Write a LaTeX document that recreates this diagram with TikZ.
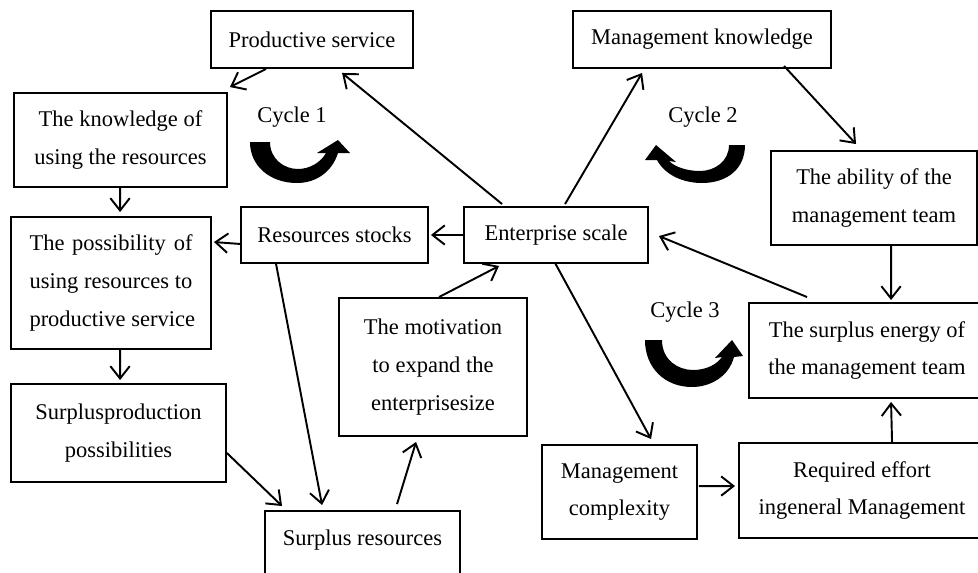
\documentclass[tikz,border=0pt]{standalone}
\usepackage{fontspec}
\setmainfont{Liberation Serif}
\usetikzlibrary{arrows.meta,calc}
\begin{document}
\begin{tikzpicture}[x=0.02cm,y=-0.02cm,
  box/.style={draw, line width=1.1pt, align=center, inner sep=0pt, font=\fontsize{12.8}{21.5}\selectfont},
  conn/.style={-{Straight Barb[length=7pt,width=11pt,line width=1.1pt]}, line width=1.1pt},
  cyc/.style={fill=black, draw=none},
  lbl/.style={font=\fontsize{12.8}{15}\selectfont, inner sep=0pt}]
\clip (0,0) rectangle (978,572);
\fill[white] (0,0) rectangle (978,572);
% boxes
\node[box, minimum width=4.04cm, minimum height=1.14cm] (prod) at (312,39.5) {Productive service};
\node[box, minimum width=4.26cm, minimum height=1.88cm] (know) at (120.5,140) {\raisebox{-3pt}{The knowledge of}\\\raisebox{-3pt}{using the resources}};
\node[box, minimum width=5.16cm, minimum height=1.14cm] (mk) at (702,39.5) {Management knowledge};
\node[box, minimum width=4.12cm, minimum height=1.88cm] (abil) at (874,198) {The ability of the\\management team};
\node[box, minimum width=4.00cm, minimum height=2.64cm] (poss) at (111,283)
  {\makebox[3.26cm][s]{The possibility of}\\\makebox[3.26cm][s]{using resources to}\\\makebox[3.26cm][l]{productive service}};
\node[box, minimum width=3.74cm, minimum height=1.12cm] (rs) at (334.5,235) {Resources stocks};
\node[box, minimum width=3.68cm, minimum height=1.12cm] (es) at (556,235) {Enterprise scale};
\node[box, minimum width=4.30cm, minimum height=1.96cm] (spp) at (118.5,433) {Surplusproduction\\possibilities};
\node[box, minimum width=3.76cm, minimum height=2.76cm] (mot) at (433,367) {The motivation\\to expand the\\enterprisesize};
\node[box, anchor=base, minimum width=3.90cm, text height=0.31cm, text depth=1cm, inner ysep=0.37cm] (sr) at (362.5,545) {Surplus resources};
\node[box, minimum width=4.72cm, minimum height=1.90cm] (se) at (867,350.5) {The surplus energy of\\the management team};
\node[box, minimum width=3.10cm, minimum height=1.88cm] (mc) at (619.5,492) {Management\\complexity};
\node[box, minimum width=4.92cm, minimum height=1.90cm] (re) at (862,490.5) {Required effort\\ingeneral Management};
% cycle labels
\node[lbl] (c1) at (292,117) {Cycle 1};
\node[lbl] (c2) at (703,117) {Cycle 2};
\node[lbl] (c3) at (685,312) {Cycle 3};
% connectors
\draw[conn] ($(prod.south west)+(56,0)$) -- ($(know.north east)+(2,-5)$);
\draw[conn] ($(es.north west)+(39,-2)$) -- ($(prod.south west)+(132,4)$);
\draw[conn] ($(es.north west)+(102,-2)$) -- ($(mk.south west)+(70,4)$);
\draw[conn] ($(mk.south west)+(212,-3)$) -- ($(abil.north west)+(86,-6)$);
\draw[conn] ($(abil.south west)+(121,0)$) -- ($(se.north west)+(143,-2)$);
\draw[conn] ($(se.north west)+(59,-5)$) -- ($(es.north east)+(10,30)$);
\draw[conn] ($(re.north west)+(154,0)$) -- ($(se.south west)+(143,3)$);
\draw[conn] ($(mc.north east)+(1,42)$) -- ($(re.north west)+(-3,44)$);
\draw[conn] ($(es.south west)+(92,-1)$) -- ($(mc.north west)+(110,-5)$);
\draw[conn] (es.west) -- ($(rs.east)+(2,0)$);
\draw[conn] ($(rs.south west)+(0,-20)$) -- ($(poss.north east)+(2,26)$);
\draw[conn] ($(know.south west)+(107,0)$) -- ($(poss.north west)+(110,-4)$);
\draw[conn] ($(poss.south west)+(110,0)$) -- ($(spp.north west)+(110,-3)$);
\draw[conn] ($(spp.north east)+(0,70)$) -- ($(sr.north west)+(18,-4)$);
\draw[conn] ($(rs.south west)+(36,0)$) -- ($(sr.north west)+(58,-5)$);
\draw[conn] ($(sr.north west)+(133,-6)$) -- ($(mot.south west)+(78,5)$);
\draw[conn] ($(mot.north west)+(101,0)$) -- ($(es.south west)+(36,2)$);
% cycle arrows
\begin{scope}[shift={(250,142)}]
\fill[cyc] (0,0) -- (20,0) .. controls (20,17) and (34,27) .. (48,27) .. controls (60,27) and (71,20) .. (76,11) -- (67,11) -- (88,-2) -- (100,11) -- (88,11) .. controls (82,30) and (66,41) .. (47,41) .. controls (20,41) and (0,24) .. (0,0) -- cycle;
\end{scope}
\begin{scope}[shift={(745,145)}, xscale=-1]
\fill[cyc] (0,0) -- (16,0) .. controls (16,16) and (30,26) .. (45,26) .. controls (58,26) and (70,22) .. (76,16) -- (69,17) -- (89,0) -- (100,15) -- (88,15) .. controls (80,30) and (62,38) .. (43,38) .. controls (18,38) and (0,24) .. (0,0) -- cycle;
\end{scope}
\begin{scope}[shift={(645,340)}]
\fill[cyc] (0,0) -- (17,0) .. controls (17,20) and (33,30) .. (48,30) .. controls (62,30) and (72,24) .. (77,17) -- (70,18) -- (87,0) -- (98,16) -- (89,17) .. controls (84,36) and (66,47) .. (47,47) .. controls (20,47) and (0,28) .. (0,0) -- cycle;
\end{scope}
\end{tikzpicture}
\end{document}
